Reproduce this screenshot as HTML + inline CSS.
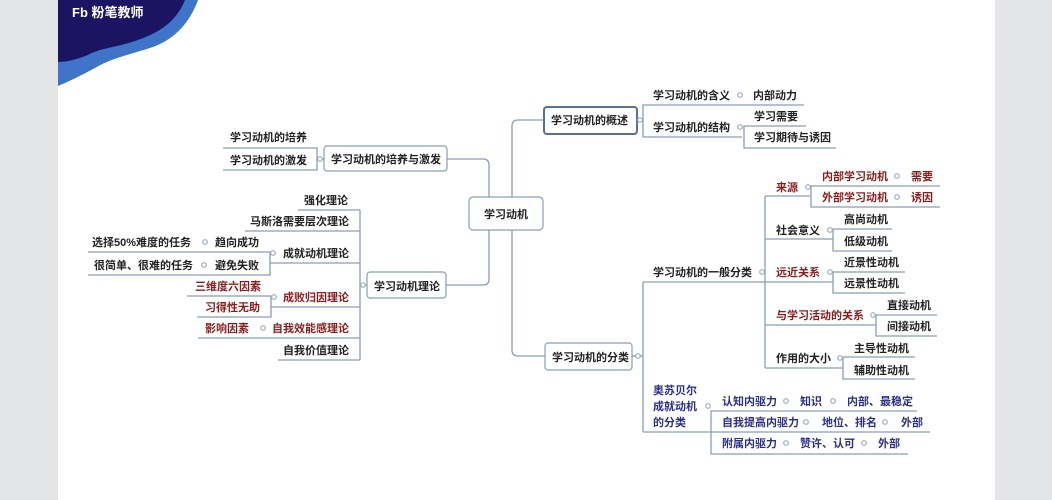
<!DOCTYPE html>
<html><head><meta charset="utf-8"><style>
html,body{margin:0;padding:0;background:#e4e5e7;}
svg{display:block;}
text{font-family:"Liberation Sans","Noto Sans CJK SC",sans-serif;font-size:11px;font-weight:bold;fill:#222;}
.r{fill:#8b1c1c;}
.b{fill:#2b2f8c;}
.w{fill:#fff;font-size:13px;}
</style></head><body>
<svg width="1052" height="500" viewBox="0 0 1052 500" xmlns="http://www.w3.org/2000/svg">
<rect x="58" y="0" width="937" height="500" fill="#fff"/>
<!-- logo -->
<path d="M58,0 H198 C190,22 175,40 150,48 C125,56 112,58 95,68 C80,76 68,82 58,86 Z" fill="#3f74c8"/>
<path d="M58,0 H185 C176,22 160,32 138,40 C115,48 100,48 88,55 C75,60 66,62 58,62 Z" fill="#1b1462"/>
<text x="72" y="17" class="w">Fb 粉笔教师</text>

<g fill="none" stroke="#8a9cb8" stroke-width="1.3">
<!-- central connectors -->
<path d="M512,197 V126 Q512,120 518,120 H543"/>
<path d="M512,230 V350 Q512,356 518,356 H545"/>
<path d="M447,159 H483 Q489,159 489,165 V197"/>
<path d="M446,285 H483 Q489,285 489,279 V230"/>
<!-- overview -->
<path d="M637,120 H643"/>
<path d="M804,105 H643 V137 H742"/>
<path d="M806,126 H744 V148 H836"/>
<!-- classification -->
<path d="M632,356 H643"/>
<path d="M643,282 V432"/>
<path d="M643,282 H765"/>
<path d="M765,196 V368"/>
<path d="M765,196 H810"/>
<path d="M940,186 H811 V207 H940"/>
<path d="M765,239 H833"/>
<path d="M892,229 H833 V251 H892"/>
<path d="M765,282 H833"/>
<path d="M905,272 H833 V293 H905"/>
<path d="M765,325 H876"/>
<path d="M937,315 H876 V336 H937"/>
<path d="M765,368 H843"/>
<path d="M915,357 H843 V379 H915"/>
<path d="M643,432 H711"/>
<path d="M917,411 H711 V454 H908"/>
<path d="M711,432 H930"/>
<!-- left theory -->
<path d="M360,285 H367"/>
<path d="M360,210 V360"/>
<path d="M298,210 H360"/>
<path d="M245,231 H360"/>
<path d="M270,263 H360"/>
<path d="M88,252 H270 V275 H88"/>
<path d="M271,307 H360"/>
<path d="M187,296 H271 V317 H197"/>
<path d="M198,338 H360"/>
<path d="M278,360 H360"/>
<!-- cultivate -->
<path d="M317,159 H324"/>
<path d="M223,148 H317 V170 H223"/>
</g>

<!-- boxes -->
<g fill="#fff" stroke="#8a9cb8" stroke-width="1.2">
<rect x="469" y="197" width="74" height="33" rx="4"/>
<rect x="545" y="343" width="87" height="27" rx="3"/>
<rect x="324" y="146" width="123" height="25" rx="3"/>
<rect x="367" y="272" width="79" height="26" rx="3"/>
</g>
<rect x="544" y="107" width="93" height="27" rx="3" fill="#fff" stroke="#5a6f9c" stroke-width="2"/>

<!-- small circles -->
<g fill="#fff" stroke="#9aaac4" stroke-width="1.2">
<circle cx="740" cy="95" r="2.3"/><circle cx="740" cy="127" r="2.3"/><circle cx="640" cy="120" r="2.3"/>
<circle cx="638" cy="356" r="2.3"/><circle cx="762" cy="272" r="2.3"/><circle cx="808" cy="187" r="2.3"/>
<circle cx="897" cy="176" r="2.3"/><circle cx="897" cy="197" r="2.3"/><circle cx="830" cy="230" r="2.3"/>
<circle cx="830" cy="272" r="2.3"/><circle cx="873" cy="315" r="2.3"/><circle cx="840" cy="358" r="2.3"/>
<circle cx="708" cy="406" r="2.3"/><circle cx="786" cy="401" r="2.3"/><circle cx="833" cy="401" r="2.3"/>
<circle cx="806" cy="422" r="2.3"/><circle cx="885" cy="422" r="2.3"/><circle cx="786" cy="443" r="2.3"/>
<circle cx="864" cy="443" r="2.3"/>
<circle cx="320" cy="159" r="2.3"/><circle cx="363" cy="285" r="2.3"/>
<circle cx="205" cy="242" r="2.3"/><circle cx="204" cy="265" r="2.3"/><circle cx="273" cy="253" r="2.3"/>
<circle cx="274" cy="297" r="2.3"/><circle cx="263" cy="328" r="2.3"/>
</g>

<!-- center & boxes text -->
<text x="484" y="218">学习动机</text>
<text x="551" y="124">学习动机的概述</text>
<text x="552" y="361">学习动机的分类</text>
<text x="331" y="163">学习动机的培养与激发</text>
<text x="374" y="290">学习动机理论</text>

<!-- overview -->
<text x="653" y="99">学习动机的含义</text>
<text x="753" y="99">内部动力</text>
<text x="653" y="131">学习动机的结构</text>
<text x="754" y="120">学习需要</text>
<text x="754" y="141">学习期待与诱因</text>

<!-- classification -->
<text x="653" y="276">学习动机的一般分类</text>
<text x="776" y="191" class="r">来源</text>
<text x="822" y="180" class="r">内部学习动机</text>
<text x="911" y="180" class="r">需要</text>
<text x="822" y="201" class="r">外部学习动机</text>
<text x="911" y="201" class="r">诱因</text>
<text x="776" y="234">社会意义</text>
<text x="844" y="223">高尚动机</text>
<text x="844" y="245">低级动机</text>
<text x="776" y="276" class="r">远近关系</text>
<text x="844" y="266">近景性动机</text>
<text x="844" y="287">远景性动机</text>
<text x="776" y="319" class="r">与学习活动的关系</text>
<text x="887" y="309">直接动机</text>
<text x="887" y="330">间接动机</text>
<text x="776" y="362">作用的大小</text>
<text x="854" y="352">主导性动机</text>
<text x="854" y="374">辅助性动机</text>
<text x="653" y="394" class="b">奥苏贝尔</text>
<text x="653" y="410" class="b">成就动机</text>
<text x="653" y="426" class="b">的分类</text>
<text x="722" y="405" class="b">认知内驱力</text>
<text x="800" y="405" class="b">知识</text>
<text x="847" y="405" class="b">内部、最稳定</text>
<text x="722" y="426" class="b">自我提高内驱力</text>
<text x="822" y="426" class="b">地位、排名</text>
<text x="901" y="426" class="b">外部</text>
<text x="722" y="447" class="b">附属内驱力</text>
<text x="800" y="447" class="b">赞许、认可</text>
<text x="878" y="447" class="b">外部</text>

<!-- left -->
<text x="230" y="141">学习动机的培养</text>
<text x="230" y="164">学习动机的激发</text>
<text x="304" y="204">强化理论</text>
<text x="250" y="225">马斯洛需要层次理论</text>
<text x="283" y="257">成就动机理论</text>
<text x="92" y="246">选择50%难度的任务</text>
<text x="215" y="246">趋向成功</text>
<text x="94" y="269">很简单、很难的任务</text>
<text x="215" y="269">避免失败</text>
<text x="195" y="290" class="r">三维度六因素</text>
<text x="205" y="311" class="r">习得性无助</text>
<text x="283" y="301" class="r">成败归因理论</text>
<text x="205" y="332" class="r">影响因素</text>
<text x="272" y="332" class="r">自我效能感理论</text>
<text x="283" y="354">自我价值理论</text>
</svg>
</body></html>
